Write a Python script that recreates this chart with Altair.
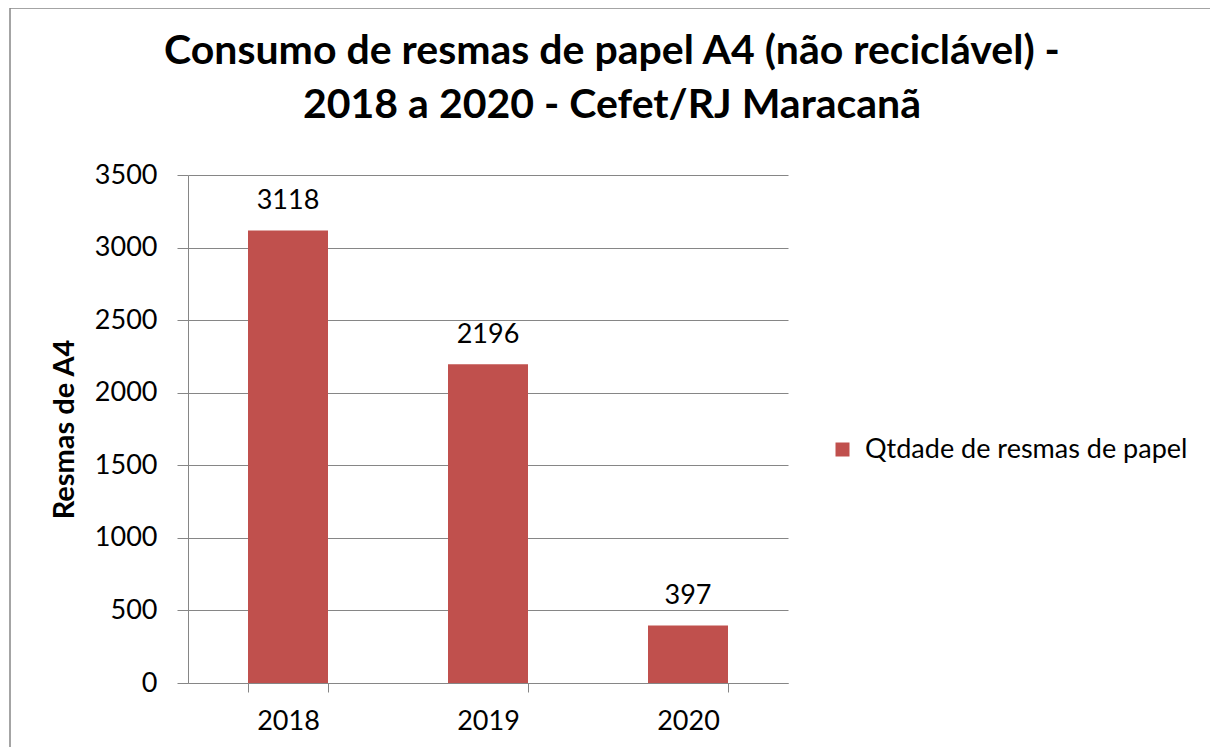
import altair as alt
import pandas as pd

years = ["2018", "2019", "2020"]
resmas = [3118, 2196, 397]
series_name = "Qtdade de resmas de papel"
y_ticks = [0, 500, 1000, 1500, 2000, 2500, 3000, 3500]
title_lines = ["Consumo de resmas de papel A4 (não reciclável) -",
               "2018 a 2020 - Cefet/RJ Maracanã"]
y_title = "Resmas de A4"

df = pd.DataFrame({"ano": years, "resmas": resmas, "serie": [series_name] * len(years)})

FONT = "Lato"
GRAY = "#868686"
RED = "#C0504D"

x_enc = alt.X(
    "ano:N", sort=years, title=None,
    scale=alt.Scale(paddingInner=0.6, paddingOuter=0.3),
    axis=alt.Axis(labelAngle=0, tickBand="extent", tickSize=9, labelPadding=16,
                  domainColor=GRAY, tickColor=GRAY, labelFontSize=27, labelFont=FONT,
                  labelColor="black", grid=False),
)
y_enc = alt.Y(
    "resmas:Q", title=y_title,
    scale=alt.Scale(domain=[0, 3500], nice=False),
    axis=alt.Axis(values=y_ticks, format="d", grid=True, gridColor=GRAY, domainColor=GRAY,
                  tickColor=GRAY, tickSize=11, labelPadding=20, labelFontSize=27,
                  labelFont=FONT, labelColor="black", titleFont=FONT, titleFontSize=29,
                  titleFontWeight="bold", titleColor="black", titleX=-109, titleY=254),
)

base = alt.Chart(df)
bars = base.mark_bar().encode(
    x=x_enc, y=y_enc,
    color=alt.Color("serie:N", scale=alt.Scale(range=[RED]),
                    legend=alt.Legend(title=None, orient="none", legendX=641, legendY=261,
                                      symbolType="square", symbolSize=196, symbolStrokeWidth=0,
                                      labelFontSize=27, labelFont=FONT, labelColor="black",
                                      labelOffset=9, labelLimit=500)),
)
labels = base.mark_text(baseline="alphabetic", dy=-21, fontSize=27, font=FONT,
                        color="black").encode(x=x_enc, y=y_enc, text=alt.Text("resmas:Q", format="d"))

frame = alt.Data(values=[{}])
title_text = alt.Chart(frame).mark_text(
    text=title_lines, font=FONT, fontSize=41, fontWeight="bold", color="black",
    align="center", baseline="alphabetic", lineHeight=54,
).encode(x=alt.value(424), y=alt.value(-111))
left_line = alt.Chart(frame).mark_rule(color=GRAY, strokeWidth=1.5).encode(
    x=alt.value(-178), y=alt.value(-167), y2=alt.value(600))
top_line = alt.Chart(frame).mark_rule(color=GRAY, strokeWidth=1.5).encode(
    x=alt.value(-178), x2=alt.value(1100), y=alt.value(-167))

chart = alt.layer(bars, labels, title_text, left_line, top_line).properties(
    width=600, height=508,
    padding={"left": 180, "top": 167, "right": 422, "bottom": 64},
    autosize=alt.AutoSizeParams(type="none"),
).configure_view(stroke=None)

chart.save("out.html", embed_options={"renderer": "svg", "actions": False})
